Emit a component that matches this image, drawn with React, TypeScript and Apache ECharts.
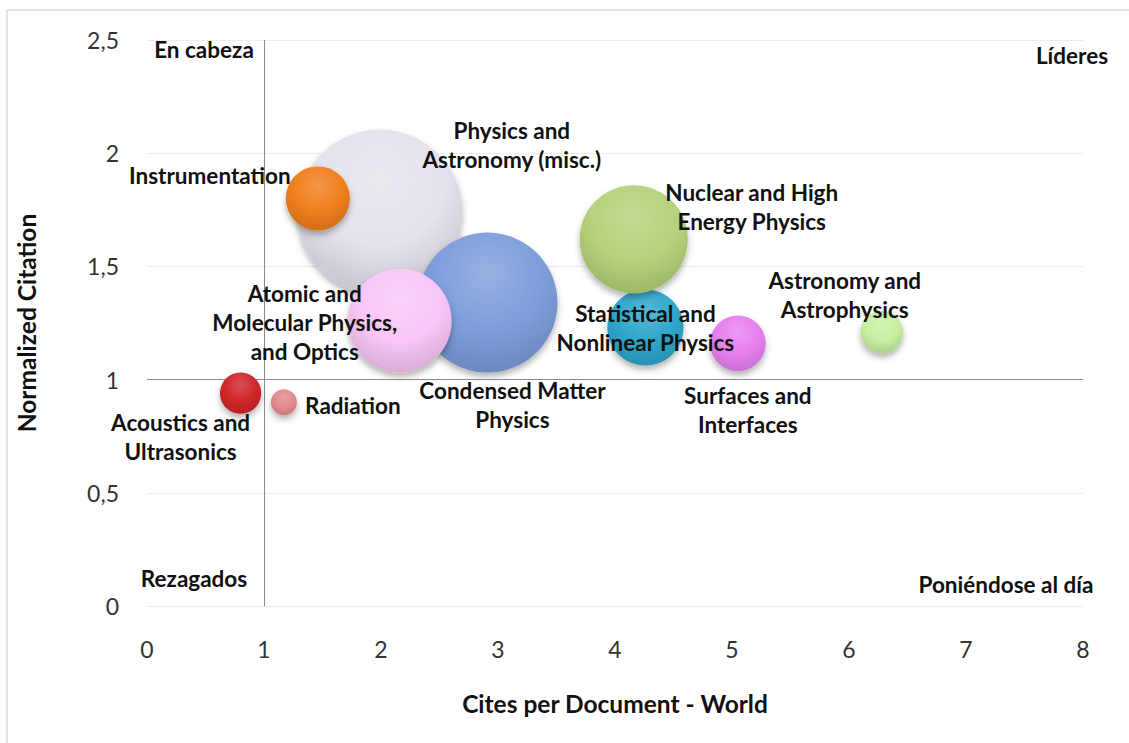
import React, { useEffect, useRef } from "react";
import * as echarts from "echarts";

const categories = [
  "Physics and\nAstronomy (misc.)",
  "Condensed Matter\nPhysics",
  "Statistical and\nNonlinear Physics",
  "Nuclear and High\nEnergy Physics",
  "Instrumentation",
  "Surfaces and\nInterfaces",
  "Astronomy and\nAstrophysics",
  "Acoustics and\nUltrasonics",
  "Radiation",
  "Atomic and\nMolecular Physics,\nand Optics",
];
const citesPerDoc = [1.99, 2.91, 4.26, 4.16, 1.46, 5.05, 6.28, 0.8, 1.17, 2.16];
const normCitation = [1.74, 1.34, 1.23, 1.62, 1.8, 1.16, 1.21, 0.94, 0.9, 1.26];
const bubbleValue = [272, 196, 58, 117, 41, 31, 18, 17, 6.8, 108];

const xTicks = { min: 0, max: 8, interval: 1 };
const yTicks = { min: 0, max: 2.5, interval: 0.5 };

const quadrantLabels = ["En cabeza", "Líderes", "Rezagados", "Poniéndose al día"];

// styling (not data)
const baseColors = [
  "#e6e2ec",
  "#7d9ddb",
  "#2ea6cc",
  "#b5d27a",
  "#f07e1c",
  "#e77ff0",
  "#c6f0a0",
  "#d0262a",
  "#e48a8c",
  "#f9c6f6",
];
const labelOffsets: [number, number][] = [
  [132, -67],
  [25, 102],
  [0, 0],
  [118, -32],
  [-108, -23],
  [10, 67],
  [-37, -37],
  [-60, 44],
  [69, 3],
  [-95, 2],
];

function shade(hex: string, f: number): string {
  const n = parseInt(hex.slice(1), 16);
  let r = (n >> 16) & 255, g = (n >> 8) & 255, b = n & 255;
  if (f >= 0) {
    r = Math.round(r + (255 - r) * f);
    g = Math.round(g + (255 - g) * f);
    b = Math.round(b + (255 - b) * f);
  } else {
    r = Math.round(r * (1 + f));
    g = Math.round(g * (1 + f));
    b = Math.round(b * (1 + f));
  }
  return `rgb(${r},${g},${b})`;
}

const FONT = "Lato, 'Open Sans', sans-serif";

export default function App() {
  const ref = useRef<HTMLDivElement>(null);
  useEffect(() => {
    document.body.style.margin = "0";
    const chart = echarts.init(ref.current!, null, { renderer: "svg" });

    const bubbleSeries = categories.map((name, i) => ({
      type: "scatter",
      name,
      z: 3 + i,
      silent: true,
      symbol: "circle",
      symbolSize: (v: number[]) => 10 * Math.sqrt(v[2]),
      data: [[citesPerDoc[i], normCitation[i], bubbleValue[i]]],
      itemStyle: {
        opacity: 1,
        color: {
          type: "radial",
          x: 0.5,
          y: 0.3,
          r: 0.8,
          colorStops: [
            { offset: 0, color: shade(baseColors[i], 0.2) },
            { offset: 0.5, color: baseColors[i] },
            { offset: 0.85, color: shade(baseColors[i], -0.12) },
            { offset: 1, color: shade(baseColors[i], -0.08) },
          ],
        },
        shadowColor: "rgba(0,0,0,0.3)",
        shadowBlur: 6,
        shadowOffsetY: 4,
      },
    }));

    const labelSeries = {
      type: "scatter",
      name: "labels",
      z: 50,
      silent: true,
      symbolSize: 1,
      itemStyle: { color: "rgba(0,0,0,0)", opacity: 1 },
      data: categories.map((name, i) => ({ name, value: [citesPerDoc[i], normCitation[i]] })),
      label: {
        show: true,
        position: "inside",
        formatter: (p: any) => p.name,
        fontFamily: FONT,
        fontWeight: "bold",
        fontSize: 22.5,
        lineHeight: 29,
        color: "#111111",
        align: "center",
      },
      labelLayout: (p: any) => ({
        dx: labelOffsets[p.dataIndex][0],
        dy: labelOffsets[p.dataIndex][1],
        hideOverlap: false,
      }),
    };

    const refLines = {
      type: "scatter",
      name: "refLines",
      z: 1,
      silent: true,
      data: [],
      markLine: {
        silent: true,
        symbol: "none",
        label: { show: false },
        lineStyle: { color: "#8a8a8a", width: 1, type: "solid" },
        data: [{ xAxis: 1 }, { yAxis: 1 }],
      },
    };

    const qText = (i: number, x: number, y: number) => ({
      type: "text",
      x,
      y,
      z: 100,
      style: {
        text: quadrantLabels[i],
        align: "center",
        verticalAlign: "middle",
        font: `bold 22.5px ${FONT}`,
        fill: "#111111",
      },
    });

    chart.setOption({
      animation: false,
      backgroundColor: "#ffffff",
      grid: { left: 147, right: 46, top: 40, bottom: 137 },
      xAxis: {
        type: "value",
        ...xTicks,
        name: "Cites per Document - World",
        nameLocation: "middle",
        nameGap: 85,
        nameTextStyle: { fontFamily: FONT, fontWeight: "bold", fontSize: 24.5, color: "#111111" },
        axisLine: { show: false },
        axisTick: { show: false },
        splitLine: { show: false },
        axisLabel: { margin: 31, fontFamily: FONT, fontSize: 23, color: "#333333" },
      },
      yAxis: {
        type: "value",
        ...yTicks,
        name: "Normalized Citation",
        nameLocation: "middle",
        nameGap: 108,
        nameTextStyle: { fontFamily: FONT, fontWeight: "bold", fontSize: 24.5, color: "#111111" },
        axisLine: { show: false },
        axisTick: { show: false },
        splitLine: { show: true, lineStyle: { color: "#ececec", width: 1 } },
        axisLabel: {
          margin: 28,
          fontFamily: FONT,
          fontSize: 23,
          color: "#333333",
          formatter: (v: number) => String(v).replace(".", ","),
        },
      },
      graphic: [
        {
          type: "rect",
          shape: { x: 7, y: 10, width: 1200, height: 800 },
          style: { fill: "none", stroke: "#e4e4dc", lineWidth: 2 },
          silent: true,
        },
        qText(0, 204, 49),
        qText(1, 1072, 55),
        qText(2, 194, 578),
        qText(3, 1006, 584),
      ],
      series: [refLines, ...bubbleSeries, labelSeries],
    });
    return () => chart.dispose();
  }, []);
  return <div ref={ref} style={{ width: 1129, height: 743 }} />;
}
